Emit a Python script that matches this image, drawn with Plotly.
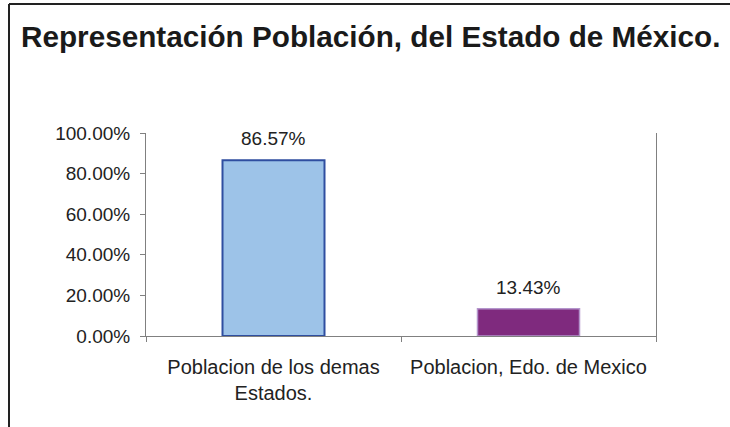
import plotly.graph_objects as go

categories = ["Poblacion de los demas<br>Estados.", "Poblacion, Edo. de Mexico"]
values = [0.8657, 0.1343]
labels = ["86.57%", "13.43%"]
tick_vals = [0, 0.2, 0.4, 0.6, 0.8, 1.0]
tick_text = ["0.00%", "20.00%", "40.00%", "60.00%", "80.00%", "100.00%"]
title_text = "Representación Población, del Estado de México."

W, H = 730, 427
L, R, T, B = 146, 656, 133, 336
FONT = "Liberation Sans, Arial, sans-serif"

fig = go.Figure()
fig.add_trace(go.Bar(
    x=categories, y=values, width=0.40,
    marker=dict(color=["#9DC3E8", "#7F2A7E"],
                line=dict(color=["#2F4EA0", "#B495CC"], width=[2, 1.5])),
    hoverinfo="skip",
))

for c, v, t in zip(categories, values, labels):
    fig.add_annotation(x=c, y=v, text=t, showarrow=False, yanchor="bottom",
                       yshift=9, font=dict(family=FONT, size=19, color="#222"))

def px(x):
    return (x - L) / (R - L)

def py(y):
    return (B - y) / (B - T)

# outer frame (top and left edges)
fig.add_shape(type="line", xref="paper", yref="paper", x0=px(9), x1=px(735),
              y0=py(4), y1=py(4), line=dict(color="#222", width=2))
fig.add_shape(type="line", xref="paper", yref="paper", x0=px(9), x1=px(9),
              y0=py(4), y1=py(430), line=dict(color="#222", width=2))

fig.update_layout(
    width=W, height=H,
    margin=dict(l=L, r=W - R, t=T, b=H - B, pad=0),
    paper_bgcolor="white", plot_bgcolor="white",
    showlegend=False,
    title=dict(text="<b>" + title_text + "</b>", xref="container", yref="container",
               x=21 / W, xanchor="left", y=1 - 37 / H, yanchor="middle",
               font=dict(family=FONT, size=29.7, color="#1a1a1a")),
    font=dict(family=FONT, size=19, color="#222"),
    bargap=0.6,
)
fig.update_yaxes(range=[0, 1], tickvals=tick_vals, ticktext=tick_text,
                 showgrid=False, zeroline=False, showline=True, mirror=True,
                 linecolor="#808080", linewidth=1, ticks="outside", ticklen=5,
                 tickcolor="#808080", ticklabelstandoff=6,
                 tickfont=dict(family=FONT, size=19, color="#222"))
fig.update_xaxes(showgrid=False, showline=True, linecolor="#808080", linewidth=1,
                 ticks="outside", ticklen=5, tickcolor="#808080",
                 tickson="boundaries", ticklabelstandoff=13,
                 tickfont=dict(family=FONT, size=20, color="#222"))

fig.write_html("out.html", config={"displayModeBar": False},
               post_script="document.body.style.margin='0';document.body.style.overflow='hidden';")
